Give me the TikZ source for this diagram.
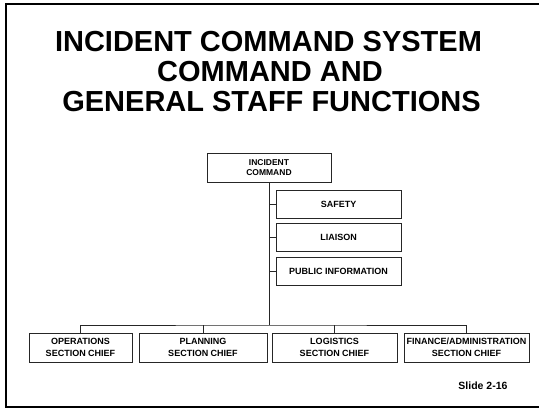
\documentclass[tikz,border=0pt]{standalone}
\usepackage{fontspec}
\setmainfont{Liberation Sans}
\begin{document}
\begin{tikzpicture}[x=1pt,y=-1pt,
  titletext/.style={anchor=base,inner sep=0pt,font=\fontsize{29}{30}\selectfont\bfseries},
  orgbox/.style={draw=black!85,line width=0.9pt,rectangle,inner sep=0pt,align=center,
    font=\fontsize{9}{12}\selectfont\bfseries},
  staffbox/.style={orgbox,minimum width=125pt,minimum height=28pt},
  chiefbox/.style={orgbox,minimum height=29pt},
  link/.style={draw=black!85,line width=0.9pt}]
\useasboundingbox (0,0) rectangle (539,409);
% slide frame (its right side lies past the page edge)
\begin{scope}
\clip (0,0) rectangle (539,409);
\draw[line width=2pt] (6,4) rectangle (560,407.4);
\end{scope}

% title
\node[titletext] (t1) at (268.5,51.5) {INCIDENT COMMAND SYSTEM};
\node[titletext] (t2) at (270,81.5) {COMMAND AND};
\node[titletext] (t3) at (271.5,111.5) {GENERAL STAFF FUNCTIONS};

% command staff
\node[orgbox,minimum width=124pt,minimum height=29pt,
  font=\fontsize{8.5}{10.5}\selectfont\bfseries] (ic) at (269,167.5) {INCIDENT\\COMMAND};
\node[staffbox] (saf) at (338.5,204) {SAFETY};
\node[staffbox] (lia) at (338.5,237) {LIAISON};
\node[staffbox] (pio) at (338.5,271) {PUBLIC INFORMATION};

% general staff
\node[chiefbox,minimum width=103pt] (ops) at (80.5,347.5) {OPERATIONS\\SECTION CHIEF};
\node[chiefbox,minimum width=128pt] (pla) at (203,347.5) {PLANNING\\SECTION CHIEF};
\node[chiefbox,minimum width=125pt] (log) at (334.5,347.5) {LOGISTICS\\SECTION CHIEF};
\node[chiefbox,minimum width=125pt] (fin) at (466.5,347.5) {FINANCE/ADMINISTRATION\\SECTION CHIEF};

\coordinate (bus) at (269,325);

% connectors
\draw[link] (ic.south) -- (bus);
\draw[link] (ic.south |- saf.west) -- (saf.west);
\draw[link] (ic.south |- lia.west) -- (lia.west);
\draw[link] (ic.south |- pio.west) -- (pio.west);
\draw[link] (ops.north) |- (bus) -| (fin.north);
\draw[link] (pla.north) -- (pla.north |- bus);
\draw[link] (log.north) -- (log.north |- bus);

\node[anchor=base,inner sep=0pt,font=\fontsize{10.5}{12}\selectfont\bfseries] (slide) at (483,389) {Slide 2-16};
\end{tikzpicture}
\end{document}
